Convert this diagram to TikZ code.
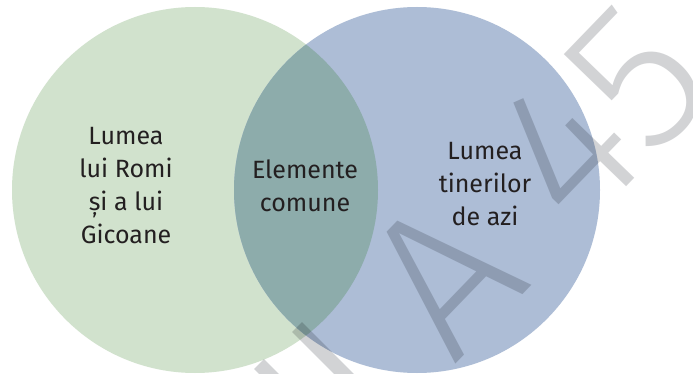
\documentclass[tikz,border=0pt]{standalone}
\usepackage{fontspec}
\setmainfont{Fira Sans}
\newfontfamily\wmfont{Fira Sans Light}
\definecolor{lgreen}{RGB}{209,226,205}
\definecolor{lblue}{RGB}{173,189,214}
\definecolor{lmix}{RGB}{141,172,171}
\definecolor{wmgray}{RGB}{210,211,213}
\definecolor{txt}{RGB}{35,31,32}
\tikzset{
  setcircle/.style={circle, minimum size=366pt, inner sep=0pt, draw=none},
  label/.style={align=center, text=txt, font=\fontsize{25}{33}\selectfont, inner sep=0pt},
  wmark/.style={text=wmgray, font=\wmfont\fontsize{206}{206}\selectfont, inner sep=0pt, rotate=46, anchor=base west, blend mode=multiply},
  wmstem/.style={draw=wmgray, line width=14pt, blend mode=multiply}
}
\begin{document}
\begin{tikzpicture}[x=1pt,y=-1pt]
\useasboundingbox (0,0) rectangle (693,374);
\fill[white] (0,0) rectangle (693,374);
\node[setcircle, fill=lgreen] (L) at (195,190) {};
\node[setcircle, fill=lblue] (R) at (417,190) {};
\begin{scope}
  \clip (195,190) circle (183pt);
  \fill[lmix] (417,190) circle (183pt);
\end{scope}
\node[label] (tl) at (126,186) {Lumea\\lui Romi\\și a lui\\Gicoane};
\node[label] (tm) at (305,186) {Elemente\\comune};
\node[label] (tr) at (485,184) {Lumea\\tinerilor\\de azi};
\node[wmark] (wa) at (453.5,366.5) {A};
\node[wmark] (w45) at (578.5,237) {45};
\coordinate (s1) at (297,327);
\coordinate (s1e) at (360,390);
\coordinate (s2) at (259,364);
\coordinate (s2e) at (290,395);
\draw[wmstem] (s1) -- (s1e);
\draw[wmstem] (s2) -- (s2e);
\end{tikzpicture}
\end{document}
